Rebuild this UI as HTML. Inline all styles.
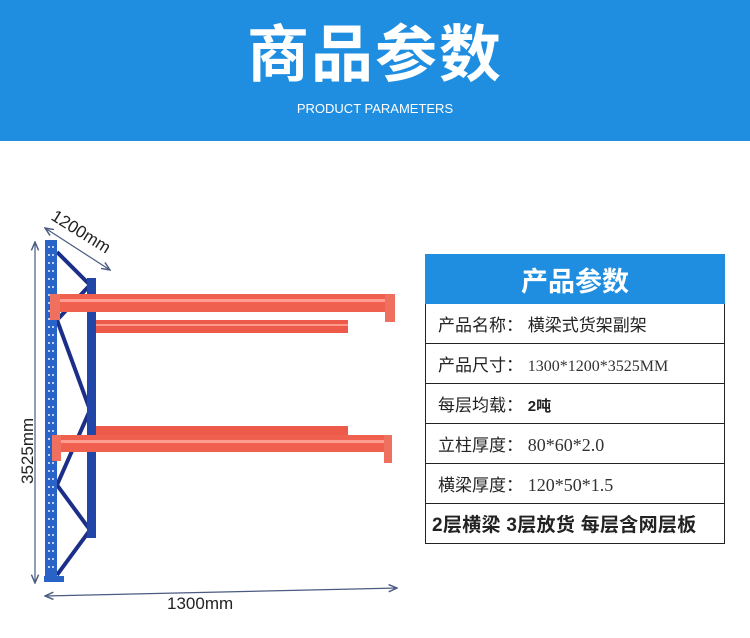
<!DOCTYPE html>
<html><head><meta charset="utf-8"><style>
body{margin:0;width:750px;height:638px;background:#fff;position:relative;overflow:hidden;font-family:"Liberation Sans","Noto Sans CJK SC",sans-serif}
.hd{position:absolute;left:0;top:0;width:750px;height:141px;background:#1f8ee0}
.t1{position:absolute;left:0;width:750px;top:18px;text-align:center;color:#fff;font-size:62px;font-weight:bold;line-height:76px;letter-spacing:2px}
.t2{position:absolute;left:0;width:750px;top:101px;text-align:center;color:#fff;font-size:13px}
table{position:absolute;left:425px;top:254px;width:300px;border-collapse:collapse}
td{border:1.5px solid #222;height:39px;font-size:17px;color:#222;padding:0 0 0 12px;white-space:nowrap}
th{background:#1f8ee0;color:#fff;font-size:27px;height:46px;border:1.5px solid #1f8ee0}
.n{font-family:"Liberation Serif","Noto Sans CJK SC",serif;font-size:16px;color:#333}
</style></head><body>
<div class="hd"><div class="t1">商品参数</div><div class="t2">PRODUCT PARAMETERS</div></div>
<table>
<tr><th>产品参数</th></tr>
<tr><td>产品名称：&nbsp;横梁式货架副架</td></tr>
<tr><td>产品尺寸：&nbsp;<span class="n">1300*1200*3525MM</span></td></tr>
<tr><td>每层均载：&nbsp;<b style="font-size:15px">2吨</b></td></tr>
<tr><td>立柱厚度：&nbsp;<span class="n" style="font-size:18px">80*60*2.0</span></td></tr>
<tr><td>横梁厚度：&nbsp;<span class="n" style="font-size:18px">120*50*1.5</span></td></tr>
<tr><td style="padding-left:6px;font-weight:bold;font-size:19px;letter-spacing:0.3px">2层横梁 3层放货 每层含网层板</td></tr>
</table>
<svg width="420" height="638" style="position:absolute;left:0;top:0">
<defs><marker id="a" markerWidth="8" markerHeight="8" refX="7" refY="4" orient="auto-start-reverse"><path d="M0,1 L7,4 L0,7" fill="none" stroke="#4a5a80" stroke-width="1.2"/></marker></defs>
<g stroke="#1c2f88" stroke-width="4" fill="none">
<path d="M57,252 L90,285 L57,320 L90,410 L57,485 L90,530 L57,575"/>
</g>
<rect x="87" y="278" width="9" height="260" fill="#2246a8"/>
<rect x="45" y="240" width="12" height="341" fill="#2a63c8"/>
<rect x="44" y="576" width="20" height="6" fill="#2a63c8"/>
<line x1="49" y1="246" x2="49" y2="574" stroke="#b8d0f0" stroke-width="2" stroke-dasharray="2 6"/>
<line x1="53" y1="246" x2="53" y2="574" stroke="#b8d0f0" stroke-width="2" stroke-dasharray="2 6"/>
<rect x="96" y="320" width="252" height="13" fill="#ee5a4a"/>
<rect x="96" y="324" width="252" height="2" fill="#ff9a8a"/>
<rect x="96" y="426" width="252" height="10" fill="#ee5a4a"/>
<rect x="50" y="294" width="345" height="18" fill="#f0604f"/>
<rect x="50" y="299" width="345" height="3" fill="#ff9e90"/>
<rect x="50" y="294" width="10" height="26" fill="#f07060"/>
<rect x="385" y="294" width="10" height="28" fill="#f07060"/>
<rect x="52" y="435" width="340" height="17" fill="#f0604f"/>
<rect x="52" y="440" width="340" height="3" fill="#ff9e90"/>
<rect x="52" y="435" width="9" height="26" fill="#f07060"/>
<rect x="384" y="435" width="8" height="28" fill="#f07060"/>
<g stroke="#4a5a80" stroke-width="1.2" fill="none">
<line x1="35" y1="242" x2="35" y2="583" marker-start="url(#a)" marker-end="url(#a)"/>
<line x1="45" y1="596" x2="397" y2="588" marker-start="url(#a)" marker-end="url(#a)"/>
<line x1="45" y1="228" x2="110" y2="270" marker-start="url(#a)" marker-end="url(#a)"/>
</g>
<text x="0" y="0" transform="translate(33,484) rotate(-90)" font-family="Liberation Sans" font-size="17" fill="#222">3525mm</text>
<text x="167" y="609" font-family="Liberation Sans" font-size="17" fill="#222">1300mm</text>
<text x="0" y="0" transform="translate(50,219) rotate(32)" font-family="Liberation Sans" font-size="17" fill="#222">1200mm</text>
</svg>
</body></html>
